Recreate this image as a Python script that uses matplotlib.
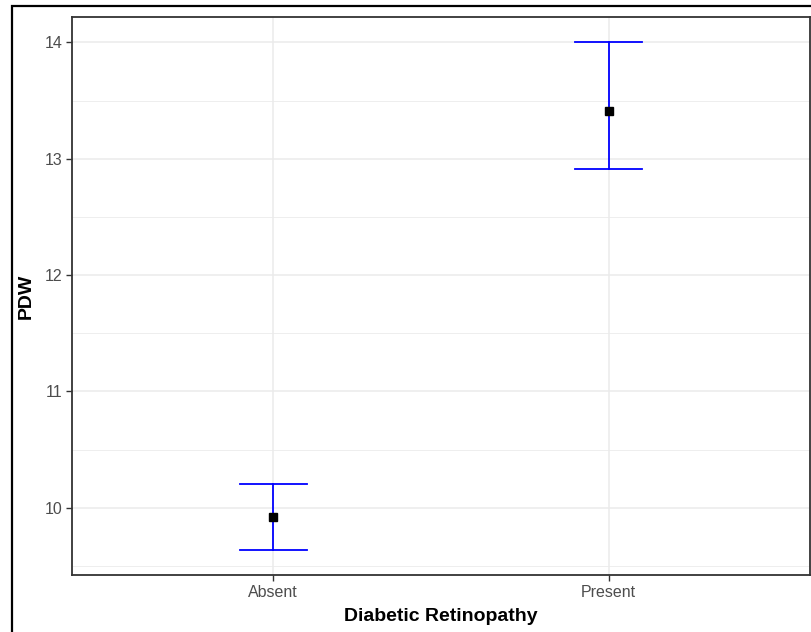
import numpy as np
import matplotlib.pyplot as plt
from matplotlib.patches import Rectangle

plt.rcParams['font.family'] = ['Liberation Sans', 'DejaVu Sans']

# dados
grupos = ["Absent", "Present"]
media = [9.92, 13.41]
inferior = [9.64, 12.91]
superior = [10.20, 14.00]

fig = plt.figure(figsize=(8.12, 6.32), dpi=100)
ax = fig.add_axes([72/812, 1 - 575/632, 738/812, 558/632])

x = np.arange(1, len(grupos) + 1)
for xi, lo, hi in zip(x, inferior, superior):
    ax.plot([xi, xi], [lo, hi], color="blue", lw=1.3, zorder=3)
    ax.plot([xi - 0.1, xi + 0.1], [lo, lo], color="blue", lw=1.3, zorder=3)
    ax.plot([xi - 0.1, xi + 0.1], [hi, hi], color="blue", lw=1.3, zorder=3)
ax.plot(x, media, "s", color="black", ms=6, zorder=4)

# eixos estilo theme_bw
rng = max(superior) - min(inferior)
ax.set_ylim(min(inferior) - 0.05 * rng, max(superior) + 0.05 * rng)
ax.set_xlim(0.4, 2.6)
ax.set_xticks(x)
ax.set_xticklabels(grupos)
ax.set_yticks([10, 11, 12, 13, 14])
ax.set_yticks(np.arange(9.5, 14.5, 1.0), minor=True)
ax.grid(True, which="major", color="#ebebeb", lw=1.1)
ax.grid(True, which="minor", axis="y", color="#ebebeb", lw=0.6)
ax.set_axisbelow(True)
ax.tick_params(which="major", length=4, color="#333333", width=1.0,
               labelsize=11.5, labelcolor="#4d4d4d", pad=3)
ax.tick_params(which="minor", length=0)
for s in ax.spines.values():
    s.set_color("#333333")
    s.set_linewidth(1.3)

ax.set_xlabel("Diabetic Retinopathy", fontsize=14, fontweight="bold", labelpad=6)
ax.set_ylabel("PDW", fontsize=14, fontweight="bold", labelpad=7)

# moldura externa da imagem
fig.patches.append(Rectangle((12/812, -0.1), 1.1, 1 - 6/632 + 0.1,
                             transform=fig.transFigure, fill=False,
                             edgecolor="black", lw=1.6))

plt.savefig("out.png", dpi=100)
plt.close()
